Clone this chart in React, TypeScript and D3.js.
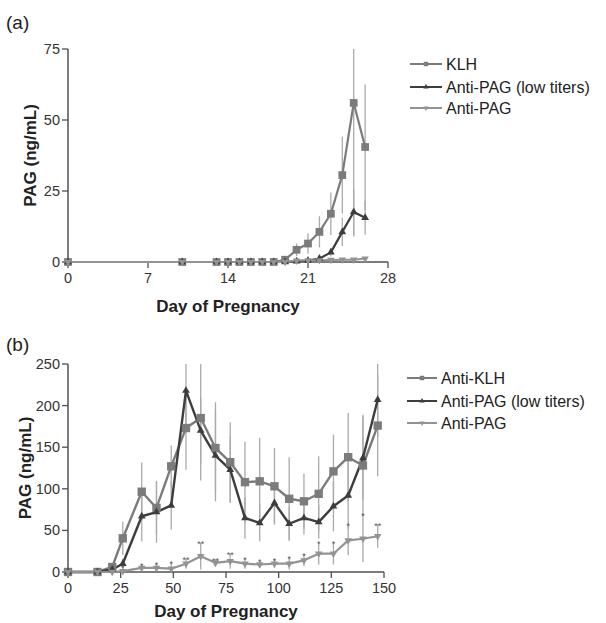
import React from 'react';
import * as d3 from 'd3';

// ---------- Panel (a) data ----------
const daysA = [0, 10, 13, 14, 15, 16, 17, 18, 19, 20, 21, 22, 23, 24, 25, 26];
const klhA = [0, 0, 0, 0, 0, 0, 0, 0, 0.8, 4.3, 6.5, 10.6, 17, 30.6, 56, 40.5];
const klhErrA = [0, 0, 0, 0, 0, 0, 0, 0, 0.5, 2.2, 3.6, 5.5, 7.5, 13.5, 47, 22];
const lowA = [0, 0, 0, 0, 0, 0, 0, 0, 0, 0.3, 0.5, 1.2, 3.4, 10.6, 17.6, 15.6];
const lowErrA = [0, 0, 0, 0, 0, 0, 0, 0, 0, 0.2, 0.3, 0.8, 1.5, 5, 8, 6];
const pagA = [0, 0, 0, 0, 0, 0, 0, 0, 0, 0.5, 0.6, 0.6, 0.7, 0.8, 0.8, 1.2];
const pagErrA = [0, 0, 0, 0, 0, 0, 0, 0, 0, 0.3, 0.3, 0.3, 0.3, 0.3, 0.3, 0.4];
const xTicksA = [0, 7, 14, 21, 28];
const yTicksA = [0, 25, 50, 75];
const legendA = ['KLH', 'Anti-PAG (low titers)', 'Anti-PAG'];

// ---------- Panel (b) data ----------
const daysB = [0, 14, 21, 26, 35, 42, 49, 56, 63, 70, 77, 84, 91, 98, 105, 112, 119, 126, 133, 140, 147];
const klhB = [0, 0, 6, 40.5, 96.5, 77, 127, 173, 185, 149, 132, 108, 109, 103, 88, 85, 94, 121, 138, 128, 176];
const klhErrB = [0, 0, 3, 20, 35, 32, 25, 50, 75, 55, 48, 49, 52, 46, 50, 33, 45, 44, 53, 61, 61];
const lowB = [0, 0, 3, 10, 67, 72, 80, 218, 170, 140, 123, 65, 59, 83, 58, 65, 60, 79, 92, 137, 207];
const lowErrB = [0, 0, 2, 6, 30, 37, 29, 40, 40, 55, 40, 25, 22, 25, 20, 20, 20, 30, 40, 50, 45];
const pagB = [0, 0, 0, 1, 5, 5, 4, 10, 19, 11, 13, 10, 9, 10, 10, 14, 22, 22, 38, 40, 43];
const pagErrB = [0, 0, 0, 5, 4, 5, 7, 6, 16, 4, 9, 6, 4, 5, 7, 7, 13, 13, 18, 28, 14];
const sigB = ['', '', '', '*', '*', '*', '*', '**', '**', '**', '**', '*', '*', '*', '*', '*', '*', '*', '*', '*', '**'];
const xTicksB = [0, 25, 50, 75, 100, 125, 150];
const yTicksB = [0, 50, 100, 150, 200, 250];
const legendB = ['Anti-KLH', 'Anti-PAG (low titers)', 'Anti-PAG'];

const FONT = "'Liberation Sans', Arial, Helvetica, sans-serif";
const C_KLH = '#7b7b7b';
const C_LOW = '#3d3d3d';
const C_PAG = '#939393';
const C_ERR = '#aaaaaa';
const C_AXIS = '#505050';

type Shape = 'square' | 'tri' | 'tridown';
type Series = {
  name: string;
  values: number[];
  errors: number[];
  color: string;
  shape: Shape;
  size: number;
  lw: number;
};

function Marker({ shape, x, y, size, color }: { shape: Shape; x: number; y: number; size: number; color: string }) {
  const sym = shape === 'square' ? d3.symbolSquare : d3.symbolTriangle;
  const p = d3.symbol(sym, size)() || '';
  const rot = shape === 'tridown' ? 180 : 0;
  return <path d={p} transform={`translate(${x},${y}) rotate(${rot})`} fill={color} />;
}

type PanelProps = {
  label: string;
  labelPos: [number, number];
  days: number[];
  series: Series[];
  xDomain: [number, number];
  xRange: [number, number];
  yDomain: [number, number];
  yRange: [number, number];
  xTicks: number[];
  yTicks: number[];
  xTitleY: number;
  yTitleX: number;
  legendX: [number, number, number];
  legendY: number[];
  sig?: string[];
  sigSeries?: number;
};

function Panel(p: PanelProps) {
  const x = d3.scaleLinear().domain(p.xDomain).range(p.xRange);
  const y = d3.scaleLinear().domain(p.yDomain).range(p.yRange);
  const yMax = p.yDomain[1];
  const line = d3
    .line<number>()
    .x((_, i) => x(p.days[i]))
    .y((v) => y(v));
  const x0 = p.xRange[0];
  const y0 = p.yRange[0];
  const yTop = p.yRange[1];
  return (
    <g>
      <text x={p.labelPos[0]} y={p.labelPos[1]} fontSize={19} fontFamily={FONT} fill="#222">
        {p.label}
      </text>
      {p.series.map((s, si) => (
        <g key={'e' + si}>
          {s.values.map((v, i) =>
            s.errors[i] > 0 ? (
              <line
                key={i}
                x1={x(p.days[i])}
                x2={x(p.days[i])}
                y1={y(Math.min(v + s.errors[i], yMax))}
                y2={y(Math.max(v - s.errors[i], 0))}
                stroke={C_ERR}
                strokeWidth={1.3}
              />
            ) : null
          )}
        </g>
      ))}
      <line x1={x0} x2={x0} y1={yTop} y2={y0} stroke={C_AXIS} strokeWidth={1.5} />
      <line x1={x0} x2={p.xRange[1]} y1={y0} y2={y0} stroke={C_AXIS} strokeWidth={1.5} />
      {p.yTicks.map((t) => (
        <g key={'yt' + t}>
          <line x1={x0 - 6} x2={x0} y1={y(t)} y2={y(t)} stroke={C_AXIS} strokeWidth={1.3} />
          <text x={x0 - 8} y={y(t) + 5} textAnchor="end" fontSize={14.5} fontFamily={FONT} fill="#333">
            {t}
          </text>
        </g>
      ))}
      {p.xTicks.map((t) => (
        <g key={'xt' + t}>
          <line x1={x(t)} x2={x(t)} y1={y0} y2={y0 + 6} stroke={C_AXIS} strokeWidth={1.3} />
          <text x={x(t)} y={y0 + 21} textAnchor="middle" fontSize={14.5} fontFamily={FONT} fill="#333">
            {t}
          </text>
        </g>
      ))}
      <text
        x={(p.xRange[0] + p.xRange[1]) / 2}
        y={p.xTitleY}
        textAnchor="middle"
        fontSize={17}
        fontWeight="bold"
        fontFamily={FONT}
        fill="#222"
      >
        Day of Pregnancy
      </text>
      <text
        transform={`translate(${p.yTitleX},${(y0 + yTop) / 2}) rotate(-90)`}
        textAnchor="middle"
        fontSize={17}
        fontWeight="bold"
        fontFamily={FONT}
        fill="#222"
      >
        PAG (ng/mL)
      </text>
      {p.series.map((s, si) => (
        <path key={'l' + si} d={line(s.values) || ''} fill="none" stroke={s.color} strokeWidth={s.lw} strokeLinejoin="round" />
      ))}
      {p.series.map((s, si) => (
        <g key={'m' + si}>
          {s.values.map((v, i) => (
            <Marker key={i} shape={s.shape} x={x(p.days[i])} y={y(v)} size={s.size} color={s.color} />
          ))}
        </g>
      ))}
      {p.sig && p.sigSeries !== undefined
        ? p.sig.map((s, i) =>
            s ? (
              <text
                key={'s' + i}
                x={x(p.days[i])}
                y={y(p.series[p.sigSeries!].values[i] + p.series[p.sigSeries!].errors[i]) + 4}
                textAnchor="middle"
                fontSize={9}
                fontFamily={FONT}
                fill="#555"
              >
                {s}
              </text>
            ) : null
          )
        : null}
      {p.series.map((s, si) => (
        <g key={'lg' + si}>
          <line x1={p.legendX[0]} x2={p.legendX[1]} y1={p.legendY[si]} y2={p.legendY[si]} stroke={s.color} strokeWidth={2} />
          <Marker
            shape={s.shape}
            x={(p.legendX[0] + p.legendX[1]) / 2}
            y={p.legendY[si]}
            size={s.shape === 'square' ? 20 : 12}
            color={s.color}
          />
          <text x={p.legendX[2]} y={p.legendY[si] + 5.5} fontSize={16} fontFamily={FONT} fill="#222">
            {s.name}
          </text>
        </g>
      ))}
    </g>
  );
}

export default function App() {
  const seriesA: Series[] = [
    { name: legendA[0], values: klhA, errors: klhErrA, color: C_KLH, shape: 'square', size: 60, lw: 2.2 },
    { name: legendA[1], values: lowA, errors: lowErrA, color: C_LOW, shape: 'tri', size: 26, lw: 2.2 },
    { name: legendA[2], values: pagA, errors: pagErrA, color: C_PAG, shape: 'tridown', size: 24, lw: 2 },
  ];
  const seriesB: Series[] = [
    { name: legendB[0], values: klhB, errors: klhErrB, color: C_KLH, shape: 'square', size: 70, lw: 2.4 },
    { name: legendB[1], values: lowB, errors: lowErrB, color: C_LOW, shape: 'tri', size: 26, lw: 2.4 },
    { name: legendB[2], values: pagB, errors: pagErrB, color: C_PAG, shape: 'tridown', size: 24, lw: 2.2 },
  ];
  return (
    <svg
      width={606}
      height={623}
      viewBox="0 0 606 623"
      style={{ position: 'absolute', left: 0, top: 0, background: '#fff' }}
    >
      <rect width={606} height={623} fill="#fff" />
      <Panel
        label="(a)"
        labelPos={[6, 29]}
        days={daysA}
        series={seriesA}
        xDomain={[0, 28]}
        xRange={[68, 388]}
        yDomain={[0, 75]}
        yRange={[262, 49]}
        xTicks={xTicksA}
        yTicks={yTicksA}
        xTitleY={312}
        yTitleX={36}
        legendX={[410, 442, 446]}
        legendY={[64, 87, 108]}
      />
      <Panel
        label="(b)"
        labelPos={[6, 351]}
        days={daysB}
        series={seriesB}
        xDomain={[0, 150]}
        xRange={[68, 384]}
        yDomain={[0, 250]}
        yRange={[572, 364]}
        xTicks={xTicksB}
        yTicks={yTicksB}
        xTitleY={617}
        yTitleX={31}
        legendX={[407, 437, 441]}
        legendY={[378, 401, 423]}
        sig={sigB}
        sigSeries={2}
      />
    </svg>
  );
}
